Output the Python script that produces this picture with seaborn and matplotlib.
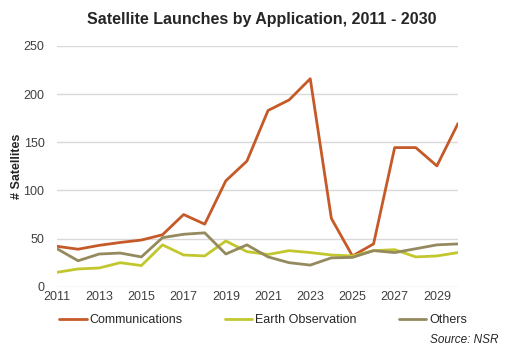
import pandas as pd
import matplotlib.pyplot as plt
import seaborn as sns

years = list(range(2011, 2031))
communications = [42, 39, 43, 46, 48.5, 54, 75, 65, 110, 130.5, 183, 194, 216, 71, 32, 44.5, 144.5, 144.5, 125.5, 169.5]
earth_observation = [15, 18.5, 19.5, 25, 22, 43.5, 33, 32, 47.5, 36.5, 33.5, 37.5, 35.5, 33, 32, 37.5, 38.5, 31, 32, 35.5]
others = [39.5, 27, 34, 35, 31, 51, 54.5, 56, 34, 43.5, 31, 25, 22.5, 30, 30.5, 37.5, 35.5, 39.5, 43.5, 44.5]
series = ['Communications', 'Earth Observation', 'Others']
colors = ['#C55A28', '#C3C72E', '#948A5E']

data = pd.DataFrame({
    'Year': years * 3,
    'Satellites': communications + earth_observation + others,
    'Application': [s for s in series for _ in years],
})

sns.set_style('white')
plt.rcParams['font.family'] = ['Liberation Sans', 'DejaVu Sans']

fig = plt.figure(figsize=(5.06, 3.51), dpi=100)
ax = fig.add_axes([0.1126, 0.183, 0.7925, 0.686])

sns.lineplot(data=data, x='Year', y='Satellites', hue='Application',
             palette=colors, linewidth=2, ax=ax, legend=False)

ax.set_xlim(2011, 2030)
ax.set_ylim(0, 250)
ax.set_xticks(range(2011, 2030, 2))
ax.set_yticks(range(0, 251, 50))
ax.tick_params(axis='both', length=0, labelsize=9, labelcolor='#404040')
ax.tick_params(axis='x', pad=3)
ax.tick_params(axis='y', pad=9)
ax.grid(axis='y', color='#D9D9D9', linewidth=1)
ax.set_axisbelow(True)
for s in ax.spines.values():
    s.set_visible(False)
ax.set_xlabel('')
ax.set_ylabel('# Satellites', fontsize=9, fontweight='bold', color='#262626', labelpad=0)

fig.text(0.517, 0.945, 'Satellite Launches by Application, 2011 - 2030',
         ha='center', va='center', fontsize=11.5, fontweight='bold')

handles = [plt.Line2D([], [], color=c, linewidth=2) for c in colors]
fig.legend(handles, series, loc='center', bbox_to_anchor=(0.52, 0.087), ncol=3,
           frameon=False, fontsize=9, handlelength=2.2, handletextpad=0.2,
           columnspacing=3.4)

fig.text(0.985, 0.03, 'Source: NSR', ha='right', va='center', fontsize=8.5,
         style='italic', color='#262626')

fig.savefig('out.png', dpi=100)
